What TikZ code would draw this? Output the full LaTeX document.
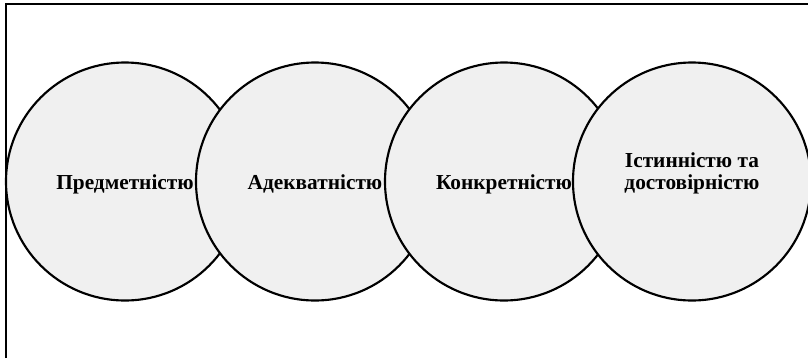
\documentclass[tikz,border=0pt]{standalone}
\usepackage{fontspec}
\setmainfont{Liberation Serif}
\begin{document}
\begin{tikzpicture}[x=0.75pt,y=-0.75pt,
  bubble/.style={circle, draw=black, line width=1.6pt, fill=bubblefill, minimum size=178.5pt, inner sep=0pt, align=center, text height=11.25pt, text depth=0pt, font=\fontsize{16pt}{16.5pt}\selectfont\bfseries},
  frame/.style={draw=black, line width=1.1pt}]
\definecolor{bubblefill}{HTML}{F0F0F0}
\useasboundingbox (0,0) rectangle (808,358);
\coordinate (tl) at (6,4);
\coordinate (tr) at (808,4);
\coordinate (bl) at (6,358);
\draw[frame] (bl) -- (tl) -- (tr);
\node[bubble] (c1) at (125,181.5) {Предметністю};
\node[bubble] (c2) at (315,181.5) {Адекватністю};
\node[bubble] (c3) at (504,181.5) {Конкретністю};
\node[bubble] (c4) at (692,181.5) {Істинністю та\\достовірністю};
\end{tikzpicture}
\end{document}
